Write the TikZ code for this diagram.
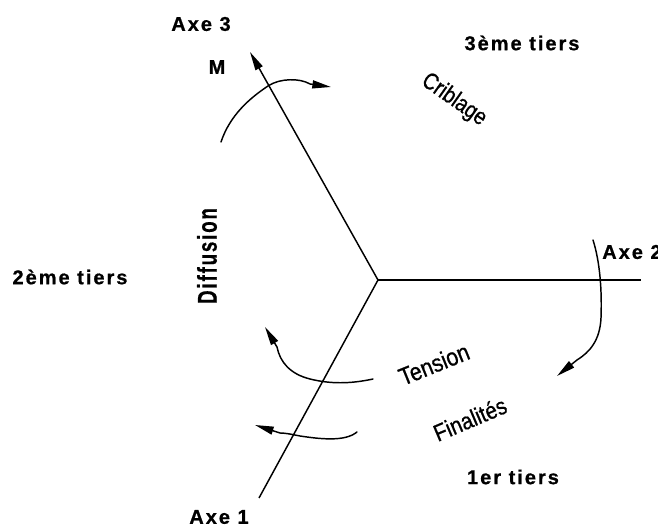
\documentclass[tikz,border=0pt]{standalone}
\usepackage{fontspec}
\setmainfont{Liberation Sans}
\newfontfamily\lblfont[LetterSpace=10,BoldFeatures={FakeBold=0.7}]{Liberation Sans}
\newfontfamily\rotfont[FakeBold=0.8]{Liberation Sans}
\usetikzlibrary{arrows.meta}
\begin{document}
\begin{tikzpicture}[x=0.75pt,y=-0.75pt,
  axis/.style={line width=1.1pt},
  curv/.style={line width=1.1pt,line cap=round},
  tip/.style={-{Triangle[length=14pt,width=6pt]}},
  big/.style={font=\lblfont\bfseries\fontsize{15pt}{18pt}\selectfont,inner sep=0pt},
  mid/.style={inner sep=0pt}]
\useasboundingbox (0,0) rectangle (658,527);
% axes
\coordinate (O) at (378,280);
\coordinate (A3) at (250,52);
\coordinate (A2) at (641,280);
\coordinate (A1) at (259,498);
\draw[axis,tip] (O) -- (A3);
\draw[axis] (O) -- (A2);
\draw[axis] (O) -- (A1);
% labels
\node[big] (ax3) at (201,24) {Axe 3};
\node[big] (m) at (217,67) {M};
\node[big] (t3) at (522,43) {3ème tiers};
\node[mid,font=\rotfont\fontsize{14.8pt}{17pt}\selectfont,rotate=-35] (crib) at (454,100) {\scalebox{1}[1.2]{Criblage}};
\node[big] (t2) at (70,277) {2ème tiers};
\node[big,font=\lblfont\bfseries\fontsize{14pt}{17pt}\selectfont,rotate=90] (diff) at (207,256) {\scalebox{1}[1.45]{Diffusion}};
\node[big,anchor=west] (ax2) at (602,252) {Axe 2};
\node[mid,font=\rotfont\fontsize{16pt}{19pt}\selectfont,rotate=22] (tens) at (434,364) {\scalebox{1}[1.15]{Tension}};
\node[mid,font=\rotfont\fontsize{15.5pt}{19pt}\selectfont,rotate=23] (fin) at (470,419) {\scalebox{1}[1.15]{Finalités}};
\node[big] (t1) at (513,477) {1er tiers};
\node[big] (ax1) at (219,517) {Axe 1};
% curved arrows
\coordinate (c1s) at (221,142);
\coordinate (c1e) at (331,87);
\draw[curv,tip] (c1s) .. controls (230,115) and (250,98) .. (268,86)
  .. controls (280,78) and (300,78) .. (310,84) -- (c1e);
\coordinate (c2s) at (593,240);
\coordinate (c2e) at (557,376);
\draw[curv,tip] (c2s) .. controls (600,262) and (602,290) .. (601,318)
  .. controls (600,340) and (590,352) .. (577,360) -- (c2e);
\coordinate (c3s) at (373,379);
\coordinate (c3e) at (265,327);
\draw[curv,tip] (c3s) .. controls (350,384) and (330,384) .. (310,379)
  .. controls (290,374) and (280,362) .. (277,347) -- (c3e);
\coordinate (c4s) at (357,432);
\coordinate (c4e) at (255,425);
\draw[curv,tip] (c4s) .. controls (345,442) and (320,439) .. (300,436)
  .. controls (290,434) and (285,433) .. (280,433) -- (c4e);
\end{tikzpicture}
\end{document}
